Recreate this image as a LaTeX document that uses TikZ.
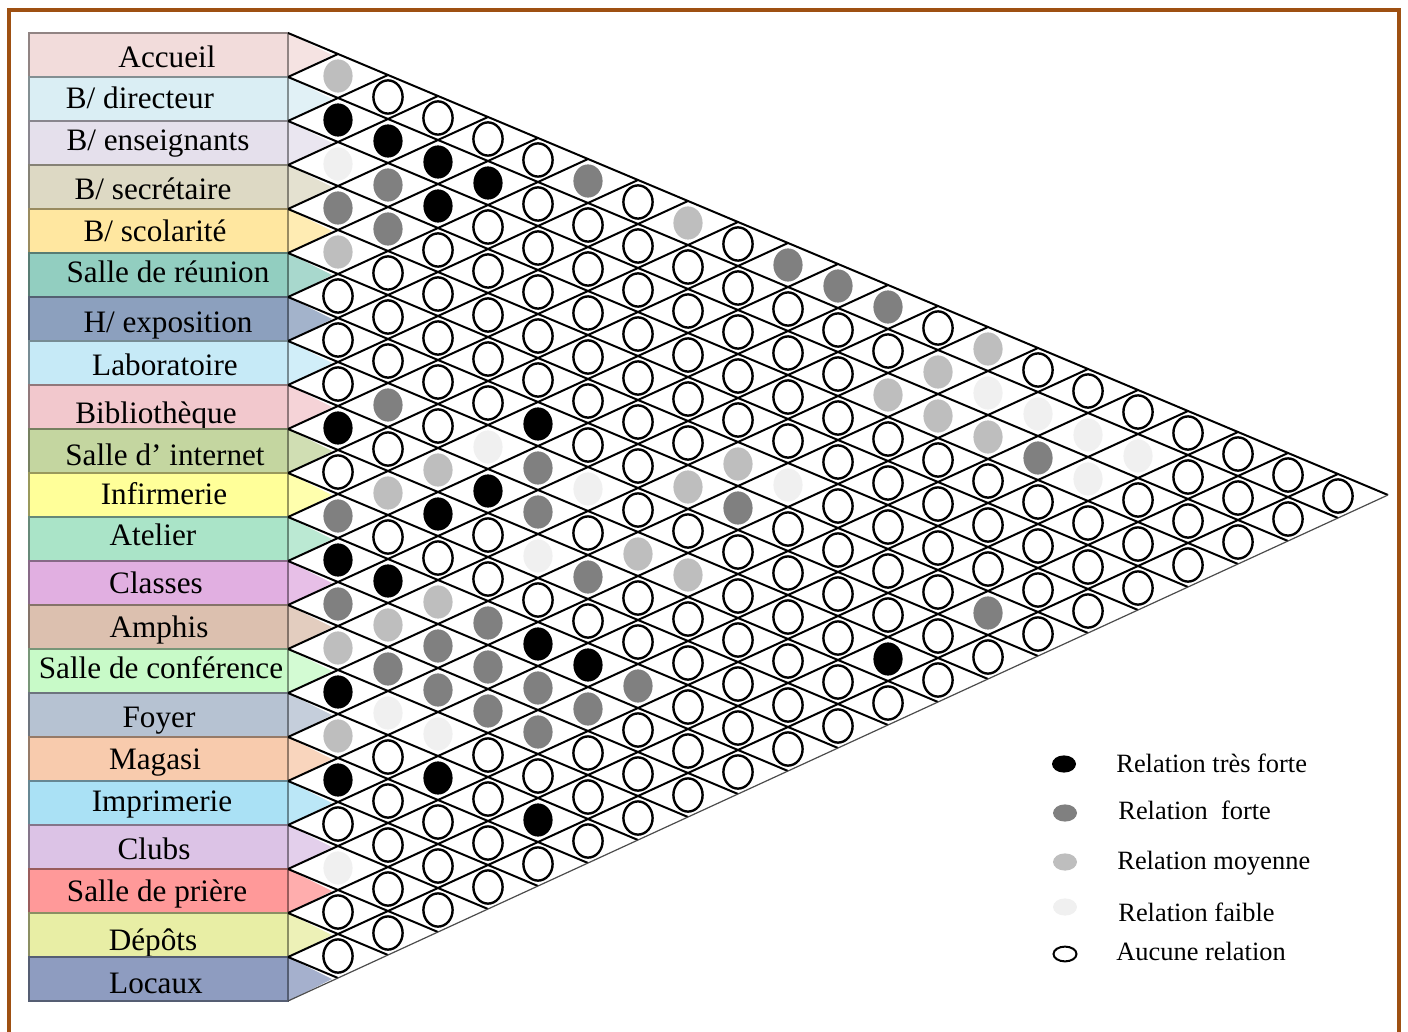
\documentclass[tikz,border=0pt]{standalone}
\usepackage{fontspec}
\setmainfont{Liberation Serif}
\usetikzlibrary{shapes.geometric}
\definecolor{faible}{RGB}{240,240,240}
\definecolor{moyenne}{RGB}{190,190,190}
\definecolor{forte}{RGB}{128,128,128}
\definecolor{framebrown}{RGB}{158,80,18}
\definecolor{cA}{RGB}{242,220,219}
\definecolor{cB}{RGB}{218,238,244}
\definecolor{cC}{RGB}{229,224,236}
\definecolor{cD}{RGB}{221,217,196}
\definecolor{cE}{RGB}{255,231,160}
\definecolor{cF}{RGB}{146,206,192}
\definecolor{cG}{RGB}{140,160,190}
\definecolor{cH}{RGB}{198,234,247}
\definecolor{cI}{RGB}{242,200,205}
\definecolor{cJ}{RGB}{196,214,160}
\definecolor{cK}{RGB}{255,255,153}
\definecolor{cL}{RGB}{170,228,200}
\definecolor{cM}{RGB}{225,175,225}
\definecolor{cN}{RGB}{220,192,175}
\definecolor{cO}{RGB}{200,250,200}
\definecolor{cP}{RGB}{182,194,210}
\definecolor{cQ}{RGB}{248,203,173}
\definecolor{cR}{RGB}{170,225,245}
\definecolor{cS}{RGB}{220,195,230}
\definecolor{cT}{RGB}{255,153,153}
\definecolor{cU}{RGB}{232,238,165}
\definecolor{cV}{RGB}{142,156,192}
\newcommand{\rowlabel}[5]{%
  \pgfmathsetmacro\rtop{33+44*#1}%
  \pgfmathsetmacro\rbot{77+44*#1}%
  \pgfmathsetmacro\rmid{55+44*#1}%
  \fill[#2, fill opacity=0.8] (288,\rtop) -- (332,\rmid) -- (288,\rbot) -- cycle;
  \draw[fill=#2, draw=#2!60!black, line width=0.6pt] (29,\rtop) rectangle (288,\rbot);
  \node[lab] (l#1) at (#3,#4+10) {#5};
}
\begin{document}
\begin{tikzpicture}[x=0.5pt,y=-0.5pt,
  lv0/.style={ellipse, inner sep=0pt, minimum width=14.6pt, minimum height=16.6pt, draw=black, line width=1.2pt, fill=white},
  fcell/.style={ellipse, inner sep=0pt, minimum width=14.6pt, minimum height=16.6pt},
  lv1/.style={fcell, fill=faible},
  lv2/.style={fcell, fill=moyenne},
  lv3/.style={fcell, fill=forte},
  lv4/.style={fcell, fill=black},
  lgw/.style={ellipse, inner sep=0pt, minimum width=11.5pt, minimum height=7.4pt, draw=black, line width=1pt, fill=white},
  lgf/.style={ellipse, inner sep=0pt, minimum width=12pt, minimum height=8.6pt},
  gridline/.style={black, line width=1pt},
  lab/.style={font=\fontsize{15.6}{18}\selectfont, anchor=base, inner sep=0pt},
  leg/.style={font=\fontsize{13.2}{15}\selectfont, anchor=base west, inner sep=0pt},
]
\useasboundingbox (0,0) rectangle (1408,1032);
% frame
\draw[framebrown, line width=2pt] (8.5,1040) -- (8.5,10.5) -- (1399,10.5) -- (1399,1040);

% row labels
\rowlabel{0}{cA}{167}{58}{Accueil}
\rowlabel{1}{cB}{140}{99}{B/ directeur}
\rowlabel{2}{cC}{158}{141}{B/ enseignants}
\rowlabel{3}{cD}{153}{190}{B/ secrétaire}
\rowlabel{4}{cE}{155}{232}{B/ scolarité}
\rowlabel{5}{cF}{168}{273}{Salle de réunion}
\rowlabel{6}{cG}{168}{322}{H/ exposition}
\rowlabel{7}{cH}{165}{365}{Laboratoire}
\rowlabel{8}{cI}{156}{413}{Bibliothèque}
\rowlabel{9}{cJ}{165}{455}{Salle d’ internet}
\rowlabel{10}{cK}{164}{494}{Infirmerie}
\rowlabel{11}{cL}{153}{535}{Atelier}
\rowlabel{12}{cM}{156}{583}{Classes}
\rowlabel{13}{cN}{159}{627}{Amphis}
\rowlabel{14}{cO}{161}{668}{Salle de conférence}
\rowlabel{15}{cP}{159}{717}{Foyer}
\rowlabel{16}{cQ}{155}{759}{Magasi}
\rowlabel{17}{cR}{162}{801}{Imprimerie}
\rowlabel{18}{cS}{154}{849}{Clubs}
\rowlabel{19}{cT}{157}{891}{Salle de prière}
\rowlabel{20}{cU}{153}{940}{Dépôts}
\rowlabel{21}{cV}{156}{983}{Locaux}

% grid: down-right lines
\foreach \m in {0,...,21}{
  \pgfmathsetmacro\gy{33+44*\m}
  \pgfmathtruncatemacro\gn{22-\m}
  \draw[gridline] (288,\gy) -- ++(50*\gn,21*\gn);
}
% grid: up-right lines
\foreach \m in {1,...,21}{
  \pgfmathsetmacro\gy{33+44*\m}
  \draw[gridline] (288,\gy) -- ++(50*\m,-23*\m);
}
\draw[black!70, line width=0.6pt] (288,1001) -- ++(1100,-506);

% relation levels
\foreach \ia/\ib/\v in {0/1/2,1/2/4,2/3/1,3/4/3,4/5/2,8/9/4,10/11/3,11/12/4,12/13/3,13/14/2,14/15/4,15/16/2,16/17/4,18/19/1,
  1/3/4,2/4/3,3/5/3,7/9/3,9/11/2,11/13/4,12/14/2,13/15/3,14/16/1,
  1/4/4,2/5/4,8/11/2,9/12/4,11/14/2,12/15/3,13/16/3,14/17/1,15/18/4,
  1/5/4,7/11/1,8/12/4,11/15/3,12/16/3,13/17/3,
  6/11/4,7/12/3,8/13/3,9/14/1,11/16/4,12/17/3,13/18/3,15/20/4,
  0/6/3,7/13/1,9/15/3,11/17/4,12/18/3,
  8/15/2,11/18/3,
  0/8/2,6/14/2,8/16/2,
  5/14/2,6/15/3,
  0/10/3,5/15/1,
  0/11/3,
  0/12/3,2/14/2,8/20/4,
  1/14/2,2/15/2,
  0/14/2,1/15/1,2/16/2,6/20/3,
  1/16/1,2/17/3,
  1/17/1,2/18/1,
  1/18/1}{
  \expandafter\xdef\csname lv@\ia @\ib\endcsname{\v}
}

% cells
\foreach \ia in {0,...,20}{
  \pgfmathtruncatemacro\bs{\ia+1}
  \foreach \ib in {\bs,...,21}{
    \pgfmathsetmacro\cx{338+50*(\ib-\ia-1)}
    \pgfmathsetmacro\cy{76+44*\ia+21*(\ib-\ia-1)}
    \ifcsname lv@\ia @\ib\endcsname
      \edef\lev{\csname lv@\ia @\ib\endcsname}
    \else
      \def\lev{0}
    \fi
    \edef\tmp{\noexpand\node[lv\lev] (c\ia-\ib) at (\cx,\cy) {};}
    \tmp
  }
}

% legend
\node[lgf, fill=black] (k4) at (1064,764) {};
\node[lgf, fill=forte] (k3) at (1065,813) {};
\node[lgf, fill=moyenne] (k2) at (1065,862) {};
\node[lgf, fill=faible] (k1) at (1065,907) {};
\node[lgw] (k0) at (1065,954) {};
\node[leg] (t4) at (1116,772) {Relation très forte};
\node[leg] (t3) at (1118,819) {Relation~~forte};
\node[leg] (t2) at (1117,869) {Relation moyenne};
\node[leg] (t1) at (1118,921) {Relation faible};
\node[leg] (t0) at (1116,960) {Aucune relation};
\end{tikzpicture}
\end{document}
